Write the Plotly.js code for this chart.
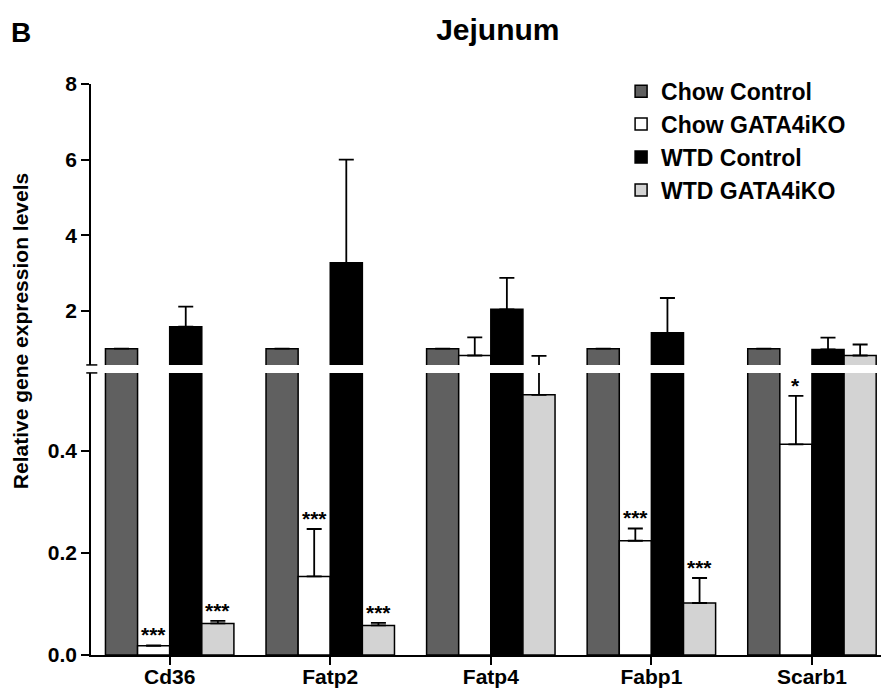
<!DOCTYPE html>
<html>
<head>
<meta charset="utf-8">
<script src="https://cdn.plot.ly/plotly-3.0.1.min.js"></script>
<style>html,body{margin:0;padding:0;background:#fff;}#chart{width:881px;height:692px;}</style>
</head>
<body>
<div id="chart"></div>
<script>
// ---- data ----
var genes = ["Cd36", "Fatp2", "Fatp4", "Fabp1", "Scarb1"];
var seriesNames = ["Chow Control", "Chow GATA4iKO", "WTD Control", "WTD GATA4iKO"];
var chowControl     = [1.0, 1.0, 1.0, 1.0, 1.0];
var chowControlErr  = [0, 0, 0, 0, 0];
var chowKO          = [0.018, 0.154, 0.82, 0.224, 0.413];
var chowKOErr       = [0.001, 0.093, 0.48, 0.024, 0.095];
var wtdControl      = [1.58, 3.27, 2.04, 1.42, 0.98];
var wtdControlErr   = [0.53, 2.73, 0.83, 0.92, 0.31];
var wtdKO           = [0.062, 0.058, 0.51, 0.102, 0.82];
var wtdKOErr        = [0.005, 0.005, 0.30, 0.049, 0.29];
// significance marks: [gene index, series index, label]
var starGene   = [0, 0, 1, 1, 3, 3, 4];
var starSeries = [1, 3, 1, 3, 1, 3, 1];
var starText   = ["***", "***", "***", "***", "***", "***", "*"];

var yLowTicks = [0, 0.2, 0.4];
var yHighTicks = [2, 4, 6, 8];

// ---- styles ----
var fills = ["#606060", "#ffffff", "#000000", "#d3d3d3"];
var values = [chowControl, chowKO, wtdControl, wtdKO];
var errs = [chowControlErr, chowKOErr, wtdControlErr, wtdKOErr];
var FONT = "Liberation Sans, Arial, Helvetica, sans-serif";

var traces = [];
for (var s = 0; s < 4; s++) {
  ["y", "y2"].forEach(function (ax) {
    traces.push({
      type: "bar",
      x: genes,
      y: values[s],
      name: seriesNames[s],
      yaxis: ax,
      xaxis: "x",
      legendgroup: "g" + s,
      showlegend: ax === "y2",
      marker: { color: fills[s], line: { color: "#000", width: 1.5 } },
      error_y: {
        type: "data", symmetric: false, array: errs[s],
        arrayminus: errs[s].map(function () { return 0; }),
        visible: true, color: "#000", thickness: 1.8, width: 7.5
      },
      hoverinfo: "x+y+name"
    });
  });
}

var slot = 0.8 / 4;
var annotations = [];
for (var i = 0; i < starGene.length; i++) {
  var g = starGene[i], si = starSeries[i];
  annotations.push({
    x: g + (si - 1.5) * slot, xref: "x",
    y: values[si][g] + errs[si][g], yref: "y",
    text: starText[i], showarrow: false,
    xanchor: "center", yanchor: "bottom", yshift: -3,
    font: { family: FONT, size: 21, color: "#000", weight: "bold" }
  });
}
annotations.push({
  x: -0.09, y: 0.567, xref: "paper", yref: "paper",
  text: "Relative gene expression levels", textangle: -90, showarrow: false,
  xanchor: "center", yanchor: "middle",
  font: { family: FONT, size: 21, color: "#000", weight: "bold" }
});
annotations.push({
  x: -0.088, y: 1.091, xref: "paper", yref: "paper",
  text: "B", showarrow: false, xanchor: "center", yanchor: "middle",
  font: { family: FONT, size: 28, color: "#000", weight: "bold" }
});

var axisCommon = {
  showline: true, linecolor: "#000", linewidth: 1.5,
  ticks: "outside", ticklen: 8, tickwidth: 1.5, tickcolor: "#000",
  showgrid: false, zeroline: false, automargin: false,
  tickfont: { family: FONT, size: 21, color: "#000", weight: "bold" },
  fixedrange: true
};

var layout = {
  width: 881, height: 692,
  margin: { l: 91, r: 0, t: 84, b: 37 },
  paper_bgcolor: "#fff", plot_bgcolor: "rgba(0,0,0,0)",
  barmode: "group", bargap: 0.2, bargroupgap: 0,
  title: {
    text: "Jejunum", x: 0.515, xref: "paper", xanchor: "center",
    y: 1 - 29 / 692, yref: "container", yanchor: "middle",
    font: { family: FONT, size: 30, color: "#000", weight: "bold" }
  },
  xaxis: Object.assign({}, axisCommon, {
    type: "category", range: [-0.49, 4.43], anchor: "y", ticklen: 8,
    ticklabelstandoff: -6,
    tickfont: { family: FONT, size: 21, color: "#000", weight: "bold" }
  }),
  yaxis: Object.assign({}, axisCommon, {
    domain: [0, 0.494], range: [0, 0.553], tickvals: yLowTicks,
    tickformat: ".1f", anchor: "x"
  }),
  yaxis2: Object.assign({}, axisCommon, {
    domain: [0.508, 1], range: [0.57, 8], tickvals: yHighTicks,
    tickformat: "d", anchor: "x"
  }),
  legend: {
    x: 0.671, y: 1.025, xanchor: "left", yanchor: "top",
    font: { family: FONT, size: 23, color: "#000", weight: "bold" },
    bgcolor: "rgba(0,0,0,0)", tracegroupgap: 2, traceorder: "normal"
  },
  annotations: annotations,
  shapes: [
    { type: "line", xref: "paper", yref: "y2 domain", x0: -0.006, x1: 0.008, y0: 0, y1: 0, line: { color: "#000", width: 1.5 } },
    { type: "line", xref: "paper", yref: "y domain", x0: -0.006, x1: 0.008, y0: 1, y1: 1, line: { color: "#000", width: 1.5 } }
  ],
  showlegend: true
};

Plotly.newPlot("chart", traces, layout, { displayModeBar: false, staticPlot: false });
</script>
</body>
</html>
